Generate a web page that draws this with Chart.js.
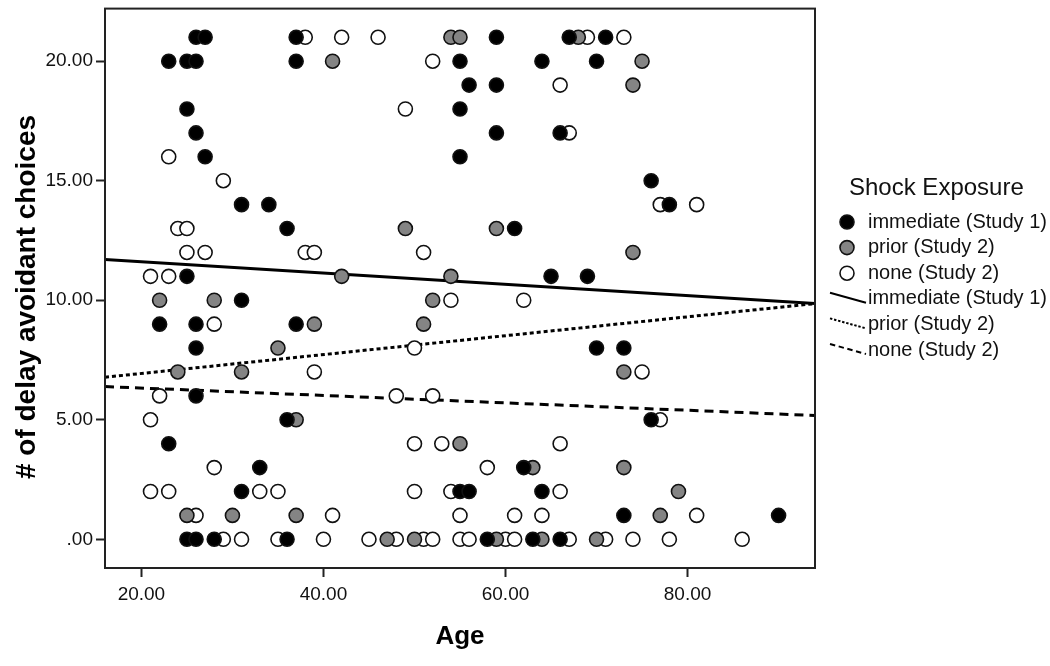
<!DOCTYPE html>
<html>
<head>
<meta charset="utf-8">
<title>Delay avoidant choices by age</title>
<script src="https://cdn.jsdelivr.net/npm/chart.js@4.4.1/dist/chart.umd.min.js"></script>
<style>
  html, body { margin: 0; padding: 0; background: #fff; }
  #wrap { width: 1050px; height: 666px; }
</style>
</head>
<body>
<div id="wrap"><canvas id="scatter" width="1050" height="666"></canvas></div>
<script>
// values: age and number of delay avoidant choices
const immediateAge = [26, 27, 37, 59, 67, 71, 23, 25, 26, 37, 55, 64, 70, 56, 59, 25, 55, 26, 59, 66, 27, 55, 76,
  31, 34, 78, 36, 61, 25, 65, 69, 31, 22, 26, 37, 26, 70, 73, 26, 36, 76, 23, 33, 62, 31, 55, 56, 64, 73, 90,
  25, 26, 28, 36, 58, 63, 66];
const immediateChoices = [21, 21, 21, 21, 21, 21, 20, 20, 20, 20, 20, 20, 20, 19, 19, 18, 18, 17, 17, 17, 16, 16, 15,
  14, 14, 14, 13, 13, 11, 11, 11, 10, 9, 9, 9, 8, 8, 8, 6, 5, 5, 4, 3, 3, 2, 2, 2, 2, 1, 1,
  0, 0, 0, 0, 0, 0, 0];

const priorAge = [54, 55, 68, 41, 75, 74, 49, 59, 74, 42, 54, 22, 28, 52, 39, 51, 35, 24, 31, 73, 37, 55, 63, 73, 79,
  25, 30, 37, 77, 47, 50, 59, 64, 70];
const priorChoices = [21, 21, 21, 20, 20, 19, 13, 13, 12, 11, 11, 10, 10, 10, 9, 9, 8, 7, 7, 7, 5, 4, 3, 3, 2,
  1, 1, 1, 1, 0, 0, 0, 0, 0];

const noneAge = [38, 42, 46, 69, 73, 52, 66, 49, 67, 23, 29, 77, 81, 24, 25, 25, 27, 38, 39, 51, 21, 23, 54, 62, 28,
  50, 39, 75, 22, 48, 52, 21, 77, 50, 53, 66, 28, 58, 21, 23, 33, 35, 50, 54, 66, 26, 41, 55, 61, 64, 81,
  29, 31, 35, 40, 45, 48, 51, 52, 55, 56, 60, 61, 67, 71, 74, 78, 86];
const noneChoices = [21, 21, 21, 21, 21, 20, 19, 18, 17, 16, 15, 14, 14, 13, 13, 12, 12, 12, 12, 12, 11, 11, 10, 10, 9,
  8, 7, 7, 6, 6, 6, 5, 5, 4, 4, 4, 3, 3, 2, 2, 2, 2, 2, 2, 2, 1, 1, 1, 1, 1, 1,
  0, 0, 0, 0, 0, 0, 0, 0, 0, 0, 0, 0, 0, 0, 0, 0, 0];

// fit lines, value at each end of the age axis
const fitAge = [16, 94];
const fitImmediate = [11.71, 9.86];
const fitPrior = [6.78, 9.86];
const fitNone = [6.39, 5.18];

const xTicks = [20, 40, 60, 80];
const yTicks = [0, 5, 10, 15, 20];
const groupLabels = ['immediate (Study 1)', 'prior (Study 2)', 'none (Study 2)'];
const legendTitle = 'Shock Exposure';

const FONT = '"Liberation Sans", Arial, sans-serif';

function pairs(xs, ys) {
  return xs.map((x, i) => ({ x: x, y: ys[i] }));
}

function pointSet(label, xs, ys, fill) {
  return {
    label: label,
    data: pairs(xs, ys),
    pointRadius: 7,
    pointBorderWidth: 1.6,
    pointBackgroundColor: fill,
    pointBorderColor: '#111',
    order: 1
  };
}

function fitSet(label, ys, dash) {
  return {
    label: label,
    data: pairs(fitAge, ys),
    showLine: true,
    borderColor: '#000',
    borderWidth: 3,
    borderDash: dash,
    pointRadius: 0,
    order: 2
  };
}

const fmt = v => (v === 0 ? '.00' : v.toFixed(2));

// box round the plot, legend on the right and axis titles
const decorations = {
  id: 'decorations',
  afterDraw(chart) {
    const ctx = chart.ctx;
    const a = chart.chartArea;
    ctx.save();
    ctx.strokeStyle = '#222';
    ctx.lineWidth = 2;
    ctx.strokeRect(a.left, a.top, a.right - a.left, a.bottom - a.top);

    ctx.fillStyle = '#000';
    ctx.textBaseline = 'middle';
    ctx.textAlign = 'center';
    ctx.font = 'bold 26px ' + FONT;
    ctx.fillText('Age', (a.left + a.right) / 2, 637);
    ctx.save();
    ctx.translate(27, 297);
    ctx.rotate(-Math.PI / 2);
    ctx.font = 'bold 28px ' + FONT;
    ctx.fillText('# of delay avoidant choices', 0, 0);
    ctx.restore();

    ctx.textAlign = 'left';
    ctx.font = '24px ' + FONT;
    ctx.fillStyle = '#111';
    ctx.fillText(legendTitle, 849, 188);
    ctx.font = '20px ' + FONT;
    chart.data.datasets.forEach((ds, i) => {
      const y = 222 + i * 25.6;
      if (ds.showLine) {
        ctx.save();
        ctx.strokeStyle = '#000';
        ctx.lineWidth = 2;
        ctx.setLineDash(ds.borderDash.map(d => d * 0.6));
        ctx.beginPath();
        ctx.moveTo(830, y - 6);
        ctx.lineTo(866, y + 4);
        ctx.stroke();
        ctx.restore();
      } else {
        ctx.beginPath();
        ctx.arc(847, y, 7, 0, Math.PI * 2);
        ctx.fillStyle = ds.pointBackgroundColor;
        ctx.fill();
        ctx.lineWidth = 1.6;
        ctx.strokeStyle = '#111';
        ctx.stroke();
      }
      ctx.fillStyle = '#111';
      ctx.fillText(ds.label, 868, y);
    });
    ctx.restore();
  }
};

new Chart(document.getElementById('scatter'), {
  type: 'scatter',
  data: {
    datasets: [
      pointSet(groupLabels[0], immediateAge, immediateChoices, '#000'),
      pointSet(groupLabels[1], priorAge, priorChoices, '#848484'),
      pointSet(groupLabels[2], noneAge, noneChoices, '#fff'),
      fitSet(groupLabels[0], fitImmediate, []),
      fitSet(groupLabels[1], fitPrior, [4, 3]),
      fitSet(groupLabels[2], fitNone, [9, 6])
    ]
  },
  options: {
    responsive: false,
    animation: false,
    events: [],
    layout: { padding: { top: 6, right: 235, left: 0, bottom: 0 } },
    plugins: { legend: { display: false }, tooltip: { enabled: false } },
    scales: {
      x: {
        type: 'linear',
        min: 16,
        max: 94,
        afterBuildTicks: s => { s.ticks = xTicks.map(v => ({ value: v })); },
        afterFit: s => { s.height = 98; s.paddingLeft = 0; s.paddingRight = 0; },
        border: { display: false },
        grid: { drawOnChartArea: false, drawTicks: true, tickLength: 9, tickColor: '#222', tickWidth: 2 },
        ticks: { color: '#111', padding: 6, maxRotation: 0, font: { family: FONT, size: 19 }, callback: fmt }
      },
      y: {
        type: 'linear',
        min: -1.2,
        max: 22.2,
        afterBuildTicks: s => { s.ticks = yTicks.map(v => ({ value: v })); },
        afterFit: s => { s.width = 105; s.paddingTop = 0; s.paddingBottom = 0; },
        border: { display: false },
        grid: { drawOnChartArea: false, drawTicks: true, tickLength: 9, tickColor: '#222', tickWidth: 2 },
        ticks: { color: '#111', padding: 3, font: { family: FONT, size: 19 }, callback: fmt }
      }
    }
  },
  plugins: [decorations]
});
</script>
</body>
</html>
